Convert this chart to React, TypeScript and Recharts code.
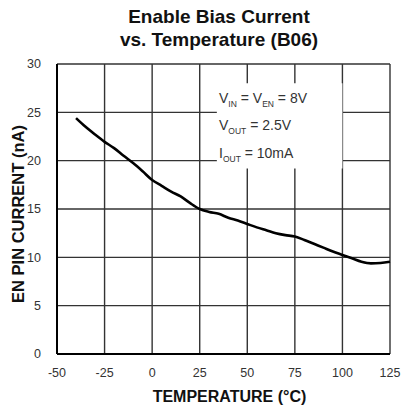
import { LineChart, Line, XAxis, YAxis, CartesianGrid, ReferenceArea } from 'recharts';

const temps = [-40, -35, -30, -25, -20, -15, -10, -5, 0, 5, 10, 15, 20, 25, 30, 35, 40, 45, 50, 55, 60, 65, 70, 75, 80, 85, 90, 95, 100, 105, 110, 115, 120, 125];
const currents = [24.4, 23.5, 22.7, 21.95, 21.3, 20.5, 19.75, 18.9, 18.0, 17.4, 16.8, 16.3, 15.6, 15.0, 14.7, 14.5, 14.1, 13.8, 13.45, 13.1, 12.8, 12.5, 12.3, 12.15, 11.8, 11.4, 11.0, 10.6, 10.25, 9.9, 9.55, 9.38, 9.42, 9.55];
const xTicks = [-50, -25, 0, 25, 50, 75, 100, 125];
const yTicks = [0, 5, 10, 15, 20, 25, 30];
const noteBox = { x1: 34, x2: 100, y1: 19.2, y2: 28 };

const data = temps.map((t, i) => ({ temp: t, current: currents[i] }));

const FONT = 'Arial, "Liberation Sans", Helvetica, sans-serif';

const YTitle = ({ viewBox }: any) => {
  const cy = viewBox.y + viewBox.height / 2 + 5;
  return (
    <text x={18} y={cy} transform={`rotate(-90, 18, ${cy})`} textAnchor="middle" dominantBaseline="central"
      fontFamily={FONT} fontWeight="bold" fontSize={16.5} fill="#111">
      EN PIN CURRENT (nA)
    </text>
  );
};

const XTitle = ({ viewBox }: any) => (
  <text x={viewBox.x + viewBox.width / 2 + 6} y={396} textAnchor="middle" dominantBaseline="central"
    fontFamily={FONT} fontWeight="bold" fontSize={16} fill="#111">
    TEMPERATURE (°C)
  </text>
);

const sub = { fontSize: 8.5, verticalAlign: 'sub' as const };

const App = () => {
  return (
    <div style={{ position: 'absolute', left: 0, top: 0, width: 401, height: 410, background: '#fff', fontFamily: FONT }}>
      <div style={{ position: 'absolute', left: 0, top: 5, width: 438, textAlign: 'center', fontWeight: 'bold', fontSize: 19, lineHeight: '23px', color: '#111' }}>
        Enable Bias Current<br />vs. Temperature (B06)
      </div>
      <LineChart width={401} height={410} data={data} margin={{ top: 64, right: 11, bottom: 0, left: 0 }}>
        <CartesianGrid stroke="#333" strokeWidth={1.4} />
        <ReferenceArea x1={noteBox.x1} x2={noteBox.x2} y1={noteBox.y1} y2={noteBox.y2} fill="#fff" fillOpacity={1} stroke="none" />
        <XAxis dataKey="temp" type="number" domain={[-50, 125]} ticks={xTicks} height={56}
          axisLine={{ stroke: '#000', strokeWidth: 2 }} tickLine={false} tickMargin={8}
          tick={{ fill: '#333', fontSize: 12.5, fontFamily: FONT }} interval={0}
          label={<XTitle />} />
        <YAxis type="number" domain={[0, 30]} ticks={yTicks} width={57}
          axisLine={{ stroke: '#000', strokeWidth: 2 }} tickLine={false} tickMargin={10}
          tick={{ fill: '#333', fontSize: 12.5, fontFamily: FONT }} interval={0}
          label={<YTitle />} />
        <Line type="monotone" dataKey="current" stroke="#000" strokeWidth={2.6} dot={false} isAnimationActive={false} />
      </LineChart>
      <div style={{ position: 'absolute', left: 219, top: 88, fontSize: 14, lineHeight: '21.5px', color: '#333' }}>
        <div>V<span style={sub}>IN</span> = V<span style={sub}>EN</span> = 8V</div>
        <div>V<span style={sub}>OUT</span> = 2.5V</div>
        <div>I<span style={sub}>OUT</span> = 10mA</div>
      </div>
    </div>
  );
};

export default App;
